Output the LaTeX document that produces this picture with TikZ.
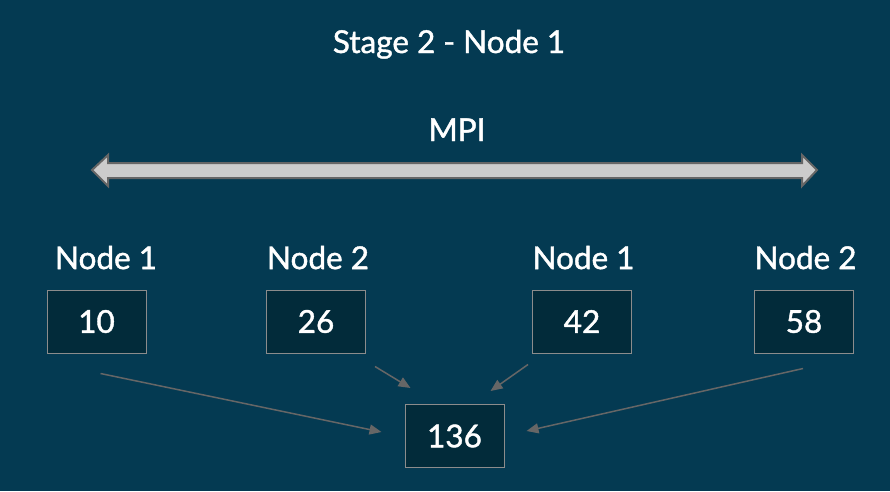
\documentclass[tikz,border=0pt]{standalone}
\usepackage{fontspec}
\setmainfont{Lato}
\newfontfamily\slidefont{Lato}[FakeBold=1.3]
\usetikzlibrary{positioning,arrows.meta}
\definecolor{slidebg}{HTML}{043A52}
\definecolor{cellfill}{HTML}{022B3A}
\definecolor{cellline}{HTML}{8C8C8C}
\definecolor{linkgray}{HTML}{666666}
\definecolor{mpifill}{HTML}{CCCCCC}
\tikzset{
  cell/.style={draw=cellline, fill=cellfill, line width=1pt, minimum width=99pt,
    minimum height=63pt, inner sep=0pt, text=white, font=\slidefont\fontsize{31.5}{38}\selectfont},
  nodetag/.style={inner sep=0pt, text=white, font=\slidefont\fontsize{31.5}{38}\selectfont},
  link/.style={draw=linkgray, line width=1.5pt, -{Triangle[length=12pt,width=10pt]}}
}
\begin{document}
\begin{tikzpicture}[x=1pt, y=-1pt]
\fill[slidebg] (0,0) rectangle (890,491);
\useasboundingbox (0,0) rectangle (890,491);

% Title and MPI channel
\node (title) [nodetag, anchor=base] at (449,53) {Stage 2 - Node 1};
\node (mpi) [nodetag, anchor=base] at (457,141) {MPI};
\draw[fill=mpifill, draw=linkgray, line width=2pt, line join=miter]
  (92,170) -- (108,155) -- (108,163) -- (802,163) -- (802,155) -- (817,170)
  -- (802,186) -- (802,178) -- (108,178) -- (108,186) -- cycle;

% Define the cells
\node (n10) [cell] at (96.5,321.5) {10};
\node (n26) [cell] at (316,321.5) {26};
\node (n42) [cell] at (582,321.5) {42};
\node (n58) [cell] at (804,321.5) {58};
\node (n136) [cell] at (454.5,436) {136};

% Node tags
\node (t10) [nodetag, above=20pt of n10, xshift=9.5pt] {Node 1};
\node (t26) [nodetag, above=20pt of n26, xshift=2pt] {Node 2};
\node (t42) [nodetag, above=20pt of n42, xshift=1.5pt] {Node 1};
\node (t58) [nodetag, above=20pt of n58, xshift=1.5pt] {Node 2};

% Connect the cells
\draw[link] ([shift={(4,20)}]n10.south) -- ([shift={(-23,-4)}]n136.west);
\draw[link] ([shift={(59,13)}]n26.south) -- ([shift={(-44,-16)}]n136.north);
\draw[link] ([shift={(-54,11)}]n42.south) -- ([shift={(36,-13)}]n136.north);
\draw[link] ([shift={(-1,15)}]n58.south) -- ([shift={(22,-5)}]n136.east);
\end{tikzpicture}
\end{document}
